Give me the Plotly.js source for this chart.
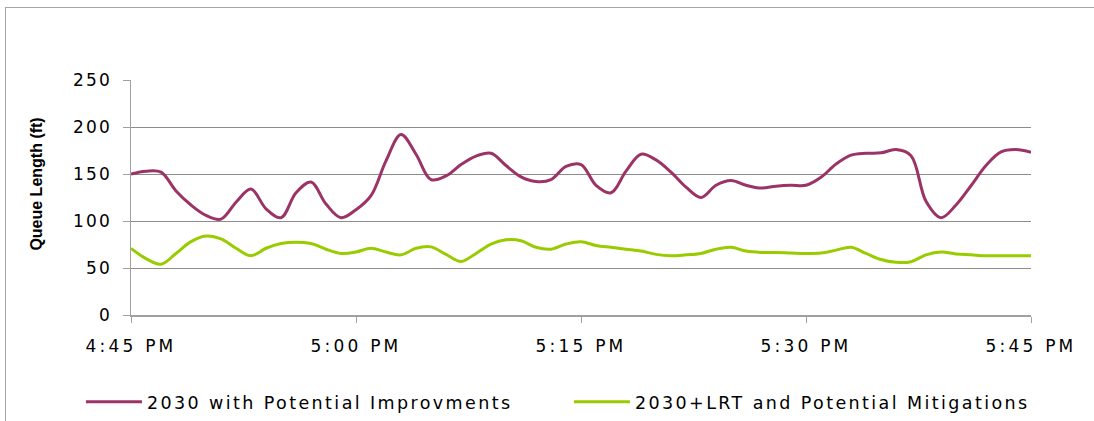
<!DOCTYPE html>
<html>
<head>
<meta charset="utf-8">
<script src="https://cdn.plot.ly/plotly-3.0.1.min.js"></script>
<style>
  html, body { margin: 0; padding: 0; background: #fff; }
  #wrap { position: relative; width: 1094px; height: 421px; overflow: hidden; }
  #chart { width: 1094px; height: 421px; }
  #frame { position: absolute; left: 5px; top: 7px; width: 1200px; height: 600px;
           border: 1px solid #a6a6a6; pointer-events: none; box-sizing: border-box; }
  #chart .xtick text { letter-spacing: 3.2px; }
  #chart .ytick text { letter-spacing: 2.2px; }
  #chart .legendtext { letter-spacing: 2.4px; }
</style>
</head>
<body>
<div id="wrap">
  <div id="chart"></div>
  <div id="frame"></div>
</div>
<script>
// minutes after 4:45 PM
const minutes = [0,1,2,3,4,5,6,7,8,9,10,11,12,13,14,15,16,17,18,19,20,21,22,23,24,25,26,27,28,29,30,
                 31,32,33,34,35,36,37,38,39,40,41,42,43,44,45,46,47,48,49,50,51,52,53,54,55,56,57,58,59,60];

const improvements = [150,153,152,132,117,106,102,120,134,113,103.5,130,141.5,118,103.5,112,127,164,192,171,
                      144,148,160,169,172,159,147,142,144,158,160,138,130,153,171,165,152,136,125,138,
                      143,138,135,137,138,138,146.5,160.5,170,172,172.5,176,169.5,121,103.5,117,137.5,159,173.5,176,173];

const mitigations = [70.8,60,54,65.5,78,84,81,71,63,71,76,77.5,76,70,65.5,67,71,67,64,71,
                     72.5,64.5,57,65.5,75.5,80,79,72,70,75.5,78,74,72,70,68,64.5,63,64,65.5,70,
                     72,68,66.6,66.6,66,65.5,66,69,72,65.5,59,56,56.7,64,67,65,64,63,63,63,63];

const seriesNames = ["2030 with Potential Improvments", "2030+LRT and Potential Mitigations"];
const tickMinutes = [0, 15, 30, 45, 60];
const tickLabels = ["4:45 PM", "5:00 PM", "5:15 PM", "5:30 PM", "5:45 PM"];
const yTicks = [0, 50, 100, 150, 200, 250];

const tickFont = {family: "DejaVu Sans, Verdana, sans-serif", size: 17, color: "#000"};

const traces = [
  {x: minutes, y: improvements, name: seriesNames[0], type: "scatter", mode: "lines",
   line: {color: "#9b3366", width: 3, shape: "spline", smoothing: 1}},
  {x: minutes, y: mitigations, name: seriesNames[1], type: "scatter", mode: "lines",
   line: {color: "#99cc00", width: 3, shape: "spline", smoothing: 1}}
];

const layout = {
  width: 1094, height: 421,
  margin: {l: 131, r: 63, t: 80, b: 106, autoexpand: false},
  paper_bgcolor: "#fff", plot_bgcolor: "#fff",
  showlegend: true,
  legend: {orientation: "h", x: -0.0556, xanchor: "left", y: -0.37, yanchor: "middle",
           font: {family: "DejaVu Sans, Verdana, sans-serif", size: 17.5, color: "#000"},
           itemwidth: 56, entrywidth: 417, entrywidthmode: "pixels", traceorder: "normal"},
  xaxis: {range: [0, 60], tickmode: "array", tickvals: tickMinutes, ticktext: tickLabels,
          showgrid: false, zeroline: false, showline: true, linecolor: "#a0a0a0", linewidth: 1.5,
          ticks: "outside", ticklen: 6, tickcolor: "#a0a0a0", tickfont: tickFont,
          ticklabelstandoff: 9, fixedrange: true},
  yaxis: {range: [0, 250], tickmode: "array", tickvals: yTicks,
          showgrid: true, gridcolor: "#8c8c8c", gridwidth: 1, zeroline: false,
          showline: true, linecolor: "#a0a0a0", linewidth: 1.5,
          ticks: "outside", ticklen: 7, tickcolor: "#a0a0a0", tickfont: tickFont,
          ticklabelstandoff: 7, fixedrange: true},
  annotations: [
    {text: "Queue Length (ft)", xref: "paper", yref: "paper", x: -0.1044, y: 0.555,
     xanchor: "center", yanchor: "middle", textangle: -90, showarrow: false,
     font: {family: "Liberation Sans, Arial, sans-serif", size: 16, color: "#000", weight: "bold"}}
  ]
};

Plotly.newPlot("chart", traces, layout, {displayModeBar: false, staticPlot: true});
</script>
</body>
</html>
